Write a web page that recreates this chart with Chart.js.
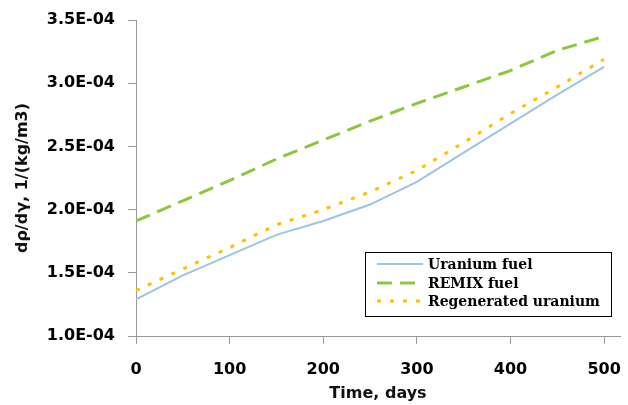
<!DOCTYPE html>
<html>
<head>
<meta charset="utf-8">
<script src="https://cdn.jsdelivr.net/npm/chart.js@4.4.0/dist/chart.umd.min.js"></script>
<style>
  html, body { margin: 0; padding: 0; background: #fff; }
  #wrap { width: 628px; height: 405px; position: relative; }
</style>
</head>
<body>
<div id="wrap"><canvas id="myChart" width="628" height="405"></canvas></div>
<script>
// days
var days = [0, 50, 100, 150, 200, 250, 300, 350, 400, 450, 500];
// dp/dg values (x 1E-04)
var uranium = [1.29, 1.48, 1.64, 1.80, 1.91, 2.04, 2.22, 2.45, 2.68, 2.91, 3.13];
var remix = [1.91, 2.07, 2.23, 2.40, 2.55, 2.70, 2.84, 2.97, 3.10, 3.26, 3.37];
var regen = [1.36, 1.53, 1.70, 1.88, 2.00, 2.14, 2.31, 2.53, 2.76, 2.97, 3.19];
var xTicks = [0, 100, 200, 300, 400, 500];
var yTicks = [1.0, 1.5, 2.0, 2.5, 3.0, 3.5];

function pts(arr) {
    return arr.map(function (v, i) { return { x: days[i], y: v * 1e-4 }; });
}

function fmtE(v) {
    var e = v.toExponential(1).split("e");
    var exp = Number(e[1]);
    var s = Math.abs(exp) < 10 ? "0" + Math.abs(exp) : "" + Math.abs(exp);
    return e[0] + "E" + (exp < 0 ? "-" : "+") + s;
}

// legend box drawn inside the plot
var boxLegend = {
    id: "boxLegend",
    afterDraw: function (chart) {
        var ctx = chart.ctx;
        var x0 = 365, y0 = 252, w = 246, h = 64;
        ctx.save();
        ctx.fillStyle = "#fff";
        ctx.fillRect(x0, y0, w, h);
        ctx.strokeStyle = "#000";
        ctx.lineWidth = 1;
        ctx.strokeRect(x0 + 0.5, y0 + 0.5, w, h);
        var rows = [264, 283, 301];
        chart.data.datasets.forEach(function (ds, i) {
            ctx.beginPath();
            ctx.strokeStyle = ds.borderColor;
            ctx.lineWidth = ds.borderWidth;
            ctx.setLineDash(ds.borderDash || []);
            ctx.moveTo(377, rows[i]);
            ctx.lineTo(423, rows[i]);
            ctx.stroke();
            ctx.setLineDash([]);
            ctx.fillStyle = "#000";
            ctx.font = "bold 14px 'DejaVu Serif'";
            ctx.textBaseline = "middle";
            ctx.fillText(ds.label, 428, rows[i] + 1);
        });
        ctx.restore();
    }
};

new Chart("myChart", {
    type: "line",
    data: {
        datasets: [{
            label: "Uranium fuel",
            data: pts(uranium),
            borderColor: "#9DC3E6",
            borderWidth: 2,
            pointRadius: 0,
            fill: false
        }, {
            label: "REMIX fuel",
            data: pts(remix),
            borderColor: "#8DC63F",
            borderWidth: 3,
            borderDash: [15, 8],
            pointRadius: 0,
            fill: false
        }, {
            label: "Regenerated uranium",
            data: pts(regen),
            borderColor: "#FFC000",
            borderWidth: 3,
            borderDash: [4, 9],
            pointRadius: 0,
            fill: false
        }]
    },
    options: {
        responsive: false,
        animation: false,
        layout: { padding: { top: 20, right: 8, left: 0, bottom: 0 } },
        plugins: {
            legend: { display: false },
            tooltip: { enabled: false }
        },
        scales: {
            x: {
                type: "linear",
                min: 0,
                max: 517,
                afterBuildTicks: function (s) { s.ticks = xTicks.map(function (v) { return { value: v }; }); },
                afterFit: function (s) { s.height = 69; s.paddingLeft = 0; s.paddingRight = 0; },
                grid: { drawOnChartArea: false, tickLength: 8, color: "#999" },
                border: { color: "#999" },
                ticks: {
                    color: "#000",
                    padding: 16,
                    font: { family: "'DejaVu Sans'", size: 16, weight: "bold" },
                    maxRotation: 0
                },
                title: {
                    display: true,
                    text: "Time, days",
                    color: "#111",
                    padding: { top: 0, bottom: 2 },
                    font: { family: "'DejaVu Sans'", size: 16, weight: "bold" }
                }
            },
            y: {
                min: 1e-4,
                max: 3.5e-4,
                afterBuildTicks: function (s) { s.ticks = yTicks.map(function (v) { return { value: v * 1e-4 }; }); },
                afterFit: function (s) { s.width = 136; s.paddingTop = 0; s.paddingBottom = 0; },
                grid: { drawOnChartArea: false, tickLength: 8, color: "#999" },
                border: { color: "#999" },
                ticks: {
                    color: "#000",
                    padding: 13,
                    font: { family: "'DejaVu Sans'", size: 16, weight: "bold" },
                    callback: function (v) { return fmtE(v); }
                },
                title: {
                    display: true,
                    text: "dρ/dγ, 1/(kg/m3)",
                    color: "#111",
                    padding: { top: 13, bottom: 0 },
                    font: { family: "'DejaVu Sans'", size: 16, weight: "bold" }
                }
            }
        }
    },
    plugins: [boxLegend]
});
</script>
</body>
</html>
